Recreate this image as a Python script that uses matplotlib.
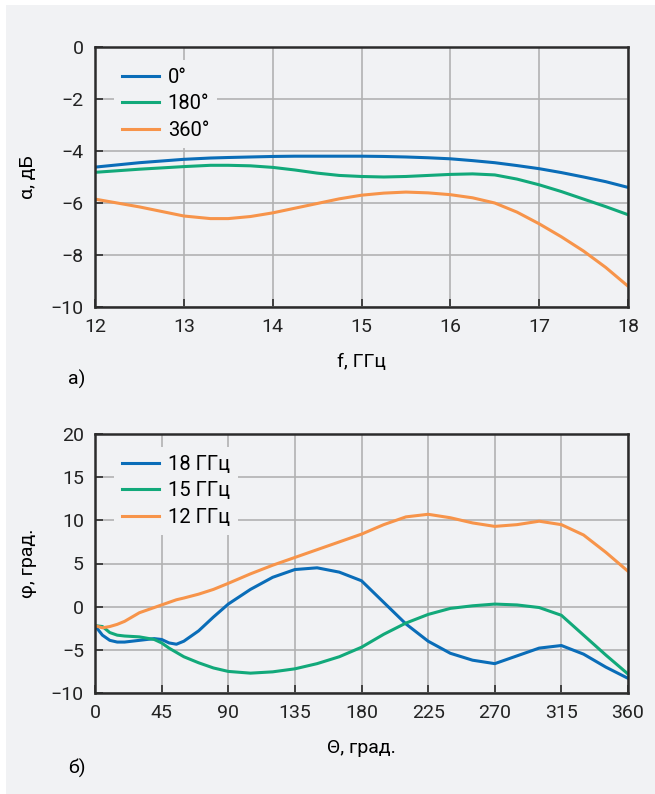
import matplotlib.pyplot as plt
from matplotlib.patches import Rectangle

# --- а) losses vs frequency ---
f_ghz = [12, 12.5, 13, 13.3, 13.5, 13.75, 14, 14.25, 14.5, 14.75, 15, 15.25, 15.5, 15.75, 16,
         16.25, 16.5, 16.75, 17, 17.25, 17.5, 17.75, 18]
a_0 = [-4.62, -4.45, -4.32, -4.27, -4.25, -4.23, -4.21, -4.2, -4.2, -4.2, -4.2, -4.21, -4.23,
       -4.26, -4.3, -4.37, -4.45, -4.56, -4.68, -4.83, -5.0, -5.18, -5.4]
a_180 = [-4.82, -4.7, -4.6, -4.55, -4.55, -4.57, -4.63, -4.73, -4.85, -4.94, -4.98, -5.0, -4.98,
         -4.94, -4.9, -4.88, -4.92, -5.08, -5.3, -5.56, -5.85, -6.14, -6.45]
a_360 = [-5.85, -6.15, -6.5, -6.6, -6.6, -6.52, -6.38, -6.2, -6.02, -5.84, -5.7, -5.62, -5.58,
         -5.61, -5.68, -5.8, -6.0, -6.35, -6.8, -7.3, -7.85, -8.48, -9.2]

# --- б) phase error vs control angle ---
theta = [0, 5, 10, 15, 20, 30, 40, 45, 50, 55, 60, 70, 80, 90, 105, 120, 135, 150, 165, 180,
         195, 210, 225, 240, 255, 270, 285, 300, 315, 330, 345, 360]
phi_18 = [-2.2, -3.3, -3.9, -4.1, -4.1, -3.9, -3.7, -3.8, -4.2, -4.35, -4.0, -2.8, -1.2, 0.3, 2.0,
          3.4, 4.3, 4.5, 4.0, 3.0, 0.5, -2.0, -4.0, -5.4, -6.2, -6.6, -5.7, -4.8, -4.5, -5.5, -7.0, -8.3]
phi_15 = [-2.2, -2.3, -3.0, -3.3, -3.4, -3.5, -3.8, -4.2, -4.8, -5.3, -5.8, -6.5, -7.1, -7.5, -7.7,
          -7.55, -7.2, -6.6, -5.8, -4.7, -3.2, -1.9, -0.9, -0.2, 0.1, 0.3, 0.2, -0.1, -1.0, -3.3, -5.6, -7.8]
phi_12 = [-2.2, -2.45, -2.3, -2.05, -1.7, -0.7, -0.1, 0.2, 0.5, 0.8, 1.0, 1.45, 2.0, 2.7, 3.8,
          4.8, 5.7, 6.6, 7.5, 8.4, 9.5, 10.4, 10.7, 10.3, 9.7, 9.3, 9.5, 9.9, 9.5, 8.3, 6.3, 4.1]

blue = "#0a6db8"
green = "#12a97a"
orange = "#f7944a"
bg = "#f1f2f4"

plt.rcParams['font.family'] = ['Roboto', 'DejaVu Sans']
plt.rcParams['font.size'] = 13

fig = plt.figure(figsize=(6.55, 7.94), dpi=100)
fig.patch.set_facecolor("white")
fig.patches.append(Rectangle((6 / 655, 0), 1, 1 - 5 / 794, transform=fig.transFigure,
                             facecolor=bg, edgecolor="none", zorder=-10))

ax1 = fig.add_axes([95 / 655, 1 - 307 / 794, 533 / 655, 260 / 794])
ax2 = fig.add_axes([95 / 655, 1 - 693 / 794, 533 / 655, 259 / 794])

ax1.plot(f_ghz, a_0, color=blue, lw=2.2, label="0°")
ax1.plot(f_ghz, a_180, color=green, lw=2.2, label="180°")
ax1.plot(f_ghz, a_360, color=orange, lw=2.2, label="360°")
ax1.set_xlim(12, 18)
ax1.set_ylim(-10, 0)
ax1.set_xticks(range(12, 19))
ax1.set_yticks([0, -2, -4, -6, -8, -10])
ax1.set_yticklabels(["0", "−2", "−4", "−6", "−8", "−10"])
ax1.set_xlabel("f, ГГц", fontsize=14, labelpad=12)
ax1.set_ylabel("α, дБ", fontsize=14, labelpad=10)

ax2.plot(theta, phi_18, color=blue, lw=2.2, label="18 ГГц")
ax2.plot(theta, phi_15, color=green, lw=2.2, label="15 ГГц")
ax2.plot(theta, phi_12, color=orange, lw=2.2, label="12 ГГц")
ax2.set_xlim(0, 360)
ax2.set_ylim(-10, 20)
ax2.set_xticks(range(0, 361, 45))
ax2.set_yticks([-10, -5, 0, 5, 10, 15, 20])
ax2.set_yticklabels(["−10", "−5", "0", "5", "10", "15", "20"])
ax2.set_xlabel("Θ, град.", fontsize=14, labelpad=12)
ax2.set_ylabel("φ, град.", fontsize=14, labelpad=10)

for ax in (ax1, ax2):
    ax.set_facecolor(bg)
    ax.grid(True, color="#b2b2b2", lw=1.2)
    ax.set_axisbelow(True)
    for side in ("top", "right", "left", "bottom"):
        ax.spines[side].set_color("#2b2b2b")
        ax.spines[side].set_linewidth(1.8)
    ax.tick_params(direction="in", length=6, width=1.2, color="#2b2b2b",
                   labelsize=14, labelcolor="#222222", pad=8)
    leg = ax.legend(loc="upper left", bbox_to_anchor=(0.025, 0.975), frameon=True,
                    fontsize=14.5, handlelength=1.8, handletextpad=0.45, labelspacing=0.38,
                    borderaxespad=0.3)
    leg.get_frame().set_facecolor(bg)
    leg.get_frame().set_edgecolor("none")
    leg.get_frame().set_alpha(1)

fig.text(68 / 655, 1 - 379 / 794, "а)", fontsize=14, va="center", ha="left")
fig.text(68 / 655, 1 - 768 / 794, "б)", fontsize=14, va="center", ha="left")

fig.savefig("out.png", dpi=100, facecolor=fig.get_facecolor())
